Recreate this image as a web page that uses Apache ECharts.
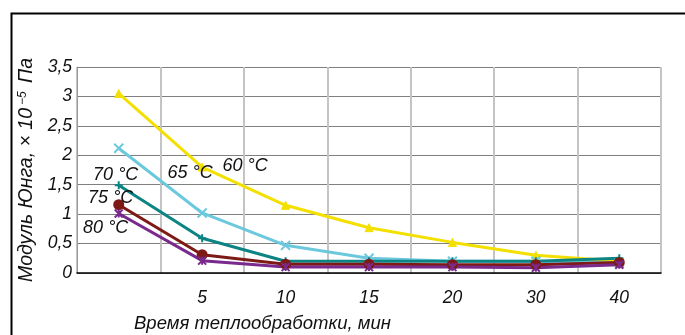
<!DOCTYPE html>
<html>
<head>
<meta charset="utf-8">
<script src="https://cdn.jsdelivr.net/npm/echarts@6/dist/echarts.min.js"></script>
<style>
  html, body { margin: 0; padding: 0; background: #fff; }
  #chart { width: 685px; height: 335px; }
</style>
</head>
<body>
<div id="chart"></div>
<script>
// Heat-treatment time, min (first column has no label)
const categories = ['', '5', '10', '15', '20', '30', '40'];

// Young's modulus per curing temperature
const t60 = [3.05, 1.80, 1.15, 0.77, 0.52, 0.30, 0.20];
const t65 = [2.12, 1.02, 0.47, 0.25, 0.20, 0.20, 0.17];
const t70 = [1.49, 0.59, 0.20, 0.20, 0.20, 0.20, 0.25];
const t75 = [1.16, 0.31, 0.15, 0.15, 0.14, 0.14, 0.18];
const t80 = [1.01, 0.21, 0.10, 0.10, 0.10, 0.09, 0.14];

const seriesNames = ['60 °C', '65 °C', '70 °C', '75 °C', '80 °C'];
const yTicks = [0, 0.5, 1, 1.5, 2, 2.5, 3, 3.5];

const FONT = 'Liberation Sans';

const crossPath = 'path://M0,0L10,10M10,0L0,10';
const plusPath = 'path://M5,0L5,10M0,5L10,5';
const starPath = 'path://M0,0L10,10M10,0L0,10M5,0L5,10';

// which point carries the temperature tag, and where the tag sits relative to it
function tagged(values, idx, name, offset) {
  return values.map((v, i) => i === idx ? {
    value: v,
    label: {
      show: true, formatter: name, position: 'inside', offset: offset,
      color: '#111', fontFamily: FONT, fontStyle: 'italic', fontSize: 18
    }
  } : v);
}

function lineSeries(name, data, color, symbol, size, width, tagIdx, tagOffset, extra) {
  return Object.assign({
    name: name,
    type: 'line',
    data: tagged(data, tagIdx, name, tagOffset),
    symbol: symbol,
    symbolSize: size,
    showSymbol: true,
    lineStyle: { color: color, width: width },
    itemStyle: { color: color, borderColor: color, borderWidth: 2 },
    emphasis: { disabled: true },
    animation: false
  }, extra || {});
}

const chart = echarts.init(document.getElementById('chart'), null, { renderer: 'canvas' });

chart.setOption({
  backgroundColor: '#fff',
  animation: false,
  grid: { left: 77, right: 24, top: 67, bottom: 62 },
  graphic: [
    {
      type: 'rect', left: 9, top: 11, z: -1,
      shape: { width: 800, height: 400 },
      style: { fill: 'none', stroke: '#000', lineWidth: 2 }
    },
    {
      type: 'text', left: 134, top: 314,
      style: {
        text: 'Время теплообработки, мин', fill: '#111',
        font: 'italic 18.5px "' + FONT + '"'
      }
    }
  ],
  xAxis: {
    type: 'category',
    data: categories,
    boundaryGap: true,
    axisLine: { show: true, lineStyle: { color: '#000', width: 1.5 } },
    axisTick: { show: false },
    axisLabel: {
      interval: 0, margin: 16, color: '#111',
      fontFamily: FONT, fontStyle: 'italic', fontSize: 17.5
    },
    splitLine: { show: true, interval: 0, lineStyle: { color: '#c4c4c4', width: 2 } }
  },
  yAxis: {
    type: 'value',
    min: 0, max: 3.5, interval: 0.5,
    axisLine: { show: true, lineStyle: { color: '#9a9a9a', width: 1 } },
    axisTick: { show: false },
    axisLabel: {
      margin: 5, color: '#111',
      fontFamily: FONT, fontStyle: 'italic', fontSize: 17.5,
      formatter: v => (yTicks.includes(v) ? String(v).replace('.', ',') : '')
    },
    splitLine: { show: true, lineStyle: { color: '#808080', width: 1 } },
    name: '{a|Модуль Юнга, × 10}{s|−5}{a| Па}',
    nameLocation: 'middle',
    nameGap: 34,
    nameRotate: 90,
    nameTextStyle: {
      rich: {
        a: { fontFamily: FONT, fontStyle: 'italic', fontSize: 19.5, color: '#111' },
        s: { fontFamily: FONT, fontStyle: 'italic', fontSize: 12, color: '#111',
             verticalAlign: 'top', padding: [0, 3, 9, 3] }
      }
    }
  },
  series: [
    lineSeries(seriesNames[0], t60, '#f4e000', 'triangle', 8, 3, 1, [43, -1],
      { itemStyle: { color: '#f4e000', borderColor: '#f4e000', borderWidth: 1 } }),
    lineSeries(seriesNames[1], t65, '#6cc9dd', crossPath, 9, 3, 1, [-12, -40]),
    lineSeries(seriesNames[2], t70, '#0c8484', plusPath, 8, 3, 0, [-3, -10]),
    lineSeries(seriesNames[3], t75, '#7e1a16', 'circle', 9, 3, 0, [-8, -7]),
    lineSeries(seriesNames[4], t80, '#7a2a8c', starPath, 8, 3, 0, [-13, 14])
  ]
});
</script>
</body>
</html>
